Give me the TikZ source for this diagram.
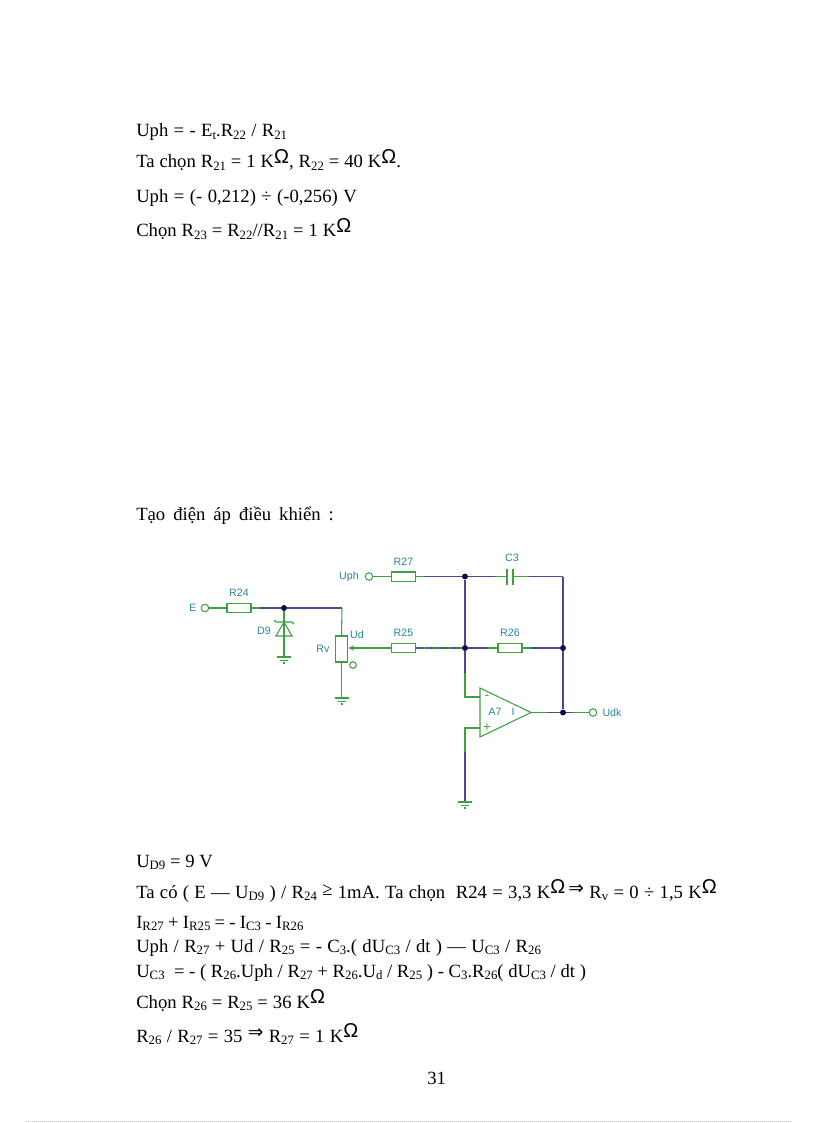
\documentclass[tikz,border=0pt]{standalone}
\usepackage{fontspec}
\setmainfont{Liberation Serif}
\setsansfont{Liberation Sans}
\newfontfamily\arrowfont{DejaVu Sans}
\usetikzlibrary{calc,positioning}
\definecolor{wiregreen}{RGB}{62,160,62}
\definecolor{wirepurple}{RGB}{72,72,150}
\definecolor{dotnavy}{RGB}{10,10,70}
\definecolor{labelteal}{RGB}{35,135,150}
\newcommand{\sbs}[1]{\raisebox{-2.2pt}{\fontsize{9.6}{10}\selectfont #1}}
\newcommand{\ohm}{\raisebox{3.2pt}{\fontsize{15}{15}\selectfont\sffamily\char"03A9}}
\newcommand{\impl}{\raisebox{2.5pt}{\arrowfont\fontsize{14}{14}\selectfont\char"21D2}}
\tikzset{
    wire/.style={draw=wiregreen, line width=0.8pt},
    wireb/.style={draw=wirepurple, line width=0.8pt},
    resbox/.style={rectangle, draw=wiregreen, line width=0.8pt, fill=white, minimum width=18pt, minimum height=6.8pt, inner sep=0pt},
    jdot/.style={circle, fill=dotnavy, inner sep=0pt, minimum size=4.2pt},
    pinc/.style={circle, draw=wiregreen, line width=0.8pt, fill=white, inner sep=0pt, minimum size=5.6pt},
    lbl/.style={text=labelteal, font=\sffamily\fontsize{8}{8}\selectfont, inner sep=0pt},
    txtline/.style={anchor=base west, inner sep=0pt, font=\fontsize{14}{15}\selectfont, execute at begin node={\spaceskip=#1\relax}},
    txtline/.default=3.5pt,
    gnd/.pic={
        \draw[wire] (-7,0) -- (7,0);
        \draw[wire] (-4,3.3) -- (4,3.3);
        \draw[wire] (-1,6) -- (1,6);
    }
}
\begin{document}
\begin{tikzpicture}[x=0.75pt,y=-0.75pt]
    \useasboundingbox (0,0) rectangle (816,1123);
    %% Text above
    \node[txtline=4pt] (t1) at (136,137) {Uph = - E\sbs{t}.R\sbs{22} / R\sbs{21}};
    \node[txtline=3.7pt] (t2) at (136,168) {Ta chọn R\sbs{21} = 1 K\ohm, R\sbs{22} = 40 K\ohm.};
    \node[txtline=4.1pt] (t3) at (136,203) {Uph = (- 0,212) ÷ (-0,256) V};
    \node[txtline=3.7pt] (t4) at (136,237) {Chọn R\sbs{23} = R\sbs{22}//R\sbs{21} = 1 K\ohm};
    \node[txtline=6pt] (t5) at (136,520) {Tạo điện áp điều khiển :};

    %% Circuit nodes
    \node[pinc] (E) at (205,608) {};
    \node[resbox] (R24) at (239,608) {};
    \node[jdot] (j1) at (284,608) {};
    \coordinate (c1) at (342,608);
    \node[rectangle, draw=wiregreen, line width=0.8pt, minimum width=9.5pt, minimum height=19.5pt, inner sep=0pt] (Rv) at (341.5,649) {};
    \node[resbox] (R25) at (403.5,648) {};
    \node[pinc] (Uph) at (369,576.5) {};
    \node[resbox] (R27) at (403.5,576.5) {};
    \node[jdot] (j3) at (465,576.5) {};
    \node[jdot] (j2) at (465,648) {};
    \node[resbox] (R26) at (510,648) {};
    \coordinate (c3l) at (507,576.5);
    \coordinate (c3r) at (513,576.5);
    \coordinate (c2) at (563,576.5);
    \node[jdot] (j4) at (563,648) {};
    \node[jdot] (j5) at (563,712.5) {};
    \node[pinc] (Udk) at (593,712.5) {};
    \coordinate (ampm) at (480,697);
    \coordinate (ampp) at (480,728);
    \coordinate (ampo) at (531,712.5);
    \coordinate (cm) at (465,697);
    \coordinate (cp) at (465,728);
    \coordinate (g1) at (284,657);
    \coordinate (g2) at (341.5,698);
    \coordinate (g3) at (465,802);
    \coordinate (zt) at (284,622);

    %% Wires
    \draw[wire] (E) -- (R24);
    \draw[wire] (R24) -- (j1);
    \draw[wireb, shorten <=6pt] (R24.east) -- (j1);
    \draw[wireb] (j1) -- (c1);
    \draw[wire] (c1) -- (Rv.north);
    \draw[wire] (Rv.south) -- (g2);
    \draw[wire] (j1) -- (g1);
    \draw[wire, -stealth] (R25.west) -- ($(Rv.east)+(0,-1)$);
    \draw[wire] (Uph) -- (R27);
    \draw[wire] (R27.east) -- (j3);
    \draw[wireb, shorten <=6pt] (R27.east) -- (j3);
    \draw[wire] (j3) -- (c3l);
    \draw[wireb, shorten >=9pt] (j3) -- (c3l);
    \draw[wire] (c3r) -- (c2);
    \draw[wireb, shorten <=12pt] (c3r) -- (c2);
    \draw[wireb] (c2) -- (j4);
    \draw[wireb] (j4) -- (j5);
    \draw[wireb] (j3) -- (j2);
    \draw[wire] (R25.east) -- (j2);
    \draw[wireb, densely dotted] (R25.east) -- (j2);
    \draw[wire] (j2) -- (R26.west);
    \draw[wireb, shorten >=7pt] (j2) -- (R26.west);
    \draw[wire] (R26.east) -- (j4);
    \draw[wireb, shorten <=6pt] (R26.east) -- (j4);
    \draw[wire] (j2) -- (cm) -- (ampm);
    \draw[wireb, shorten >=18pt] (j2) -- (cm);
    \draw[wire] (ampp) -- (cp) -- (g3);
    \draw[wireb, shorten <=18pt, shorten >=1pt] (cp) -- (g3);
    \draw[wire] (ampo) -- (j5);
    \draw[wireb, shorten <=12pt] (ampo) -- (j5);
    \draw[wire] (j5) -- (Udk);
    \draw[wireb, shorten >=12pt] (j5) -- (Udk);

    %% Opamp, capacitor, zener
    \draw[wire, fill=white] (480,688) -- (480,737) -- (ampo) -- cycle;
    \draw[wire] (507,568.5) -- (507,584.5);
    \draw[wire] (513,568.5) -- (513,584.5);
    \draw[wire] (zt) -- (276,636) -- (292,636) -- cycle;
    \draw[wire] (274,620) -- (276,622) -- (292,622) -- (294,624);
    \pic at (g1) {gnd};
    \pic at (g2) {gnd};
    \pic at (g3) {gnd};
    \node[circle, draw=wiregreen, line width=0.8pt, inner sep=0pt, minimum size=5pt] (Rvo) at (353,665) {};
    \node[jdot] at (j1) {};
    \node[jdot] at (j2) {};
    \node[jdot] at (j3) {};
    \node[jdot] at (j4) {};
    \node[jdot] at (j5) {};

    %% Labels
    \node[lbl] (lE) at (193,608) {E};
    \node[lbl, above=4.5pt of R24] (lR24) {R24};
    \node[lbl] (lD9) at (264,631) {D9};
    \node[lbl] (lRv) at (323,649) {Rv};
    \node[lbl] (lUd) at (357,635) {Ud};
    \node[lbl] (lUph) at (349,577) {Uph};
    \node[lbl, above=4.5pt of R27] (lR27) {R27};
    \node[lbl, above=4.5pt of R25] (lR25) {R25};
    \node[lbl] (lC3) at (512,558) {C3};
    \node[lbl, above=4.5pt of R26] (lR26) {R26};
    \node[lbl] (lA7) at (495,712) {A7};
    \node[lbl] (lI) at (513,712) {I};
    \node[lbl, text=wiregreen, font=\sffamily\fontsize{10}{10}\selectfont] (lm) at (487,697) {-};
    \node[lbl, text=wiregreen, font=\sffamily\fontsize{10}{10}\selectfont] (lp) at (487,727.5) {+};
    \node[lbl] (lUdk) at (612,713) {Udk};

    %% Text below
    \node[txtline=3.5pt] (b1) at (136,867) {U\sbs{D9} = 9 V};
    \node[txtline=4pt] (b2) at (136,898) {Ta có ( E — U\sbs{D9} ) / R\sbs{24} \raisebox{2pt}{≥} 1mA. Ta chọn\ \ R24 = 3,3 K\ohm\,\impl\ R\sbs{v} = 0 ÷ 1,5 K\ohm};
    \node[txtline=3.2pt] (b3) at (136,928) {I\sbs{R27} + I\sbs{R25} = - I\sbs{C3} - I\sbs{R26}};
    \node[txtline=4pt] (b4) at (136,952) {Uph / R\sbs{27} + Ud / R\sbs{25} = - C\sbs{3}.( dU\sbs{C3} / dt ) — U\sbs{C3} / R\sbs{26}};
    \node[txtline=3.5pt] (b5) at (136,977) {U\sbs{C3}\ \ = - ( R\sbs{26}.Uph / R\sbs{27} + R\sbs{26}.U\sbs{d} / R\sbs{25} ) - C\sbs{3}.R\sbs{26}( dU\sbs{C3} / dt )};
    \node[txtline=3.7pt] (b6) at (136,1008) {Chọn R\sbs{26} = R\sbs{25} = 36 K\ohm};
    \node[txtline=4pt] (b7) at (136,1042) {R\sbs{26} / R\sbs{27} = 35 \impl\ R\sbs{27} = 1 K\ohm};
    \node[txtline] (pg) at (427,1084) {31};

    %% Page border at the foot
    \coordinate (fl) at (26,1121.5);
    \coordinate (fr) at (792,1121.5);
    \draw[black!25, line width=0.5pt, densely dotted] (fl) -- (fr);
\end{tikzpicture}
\end{document}
